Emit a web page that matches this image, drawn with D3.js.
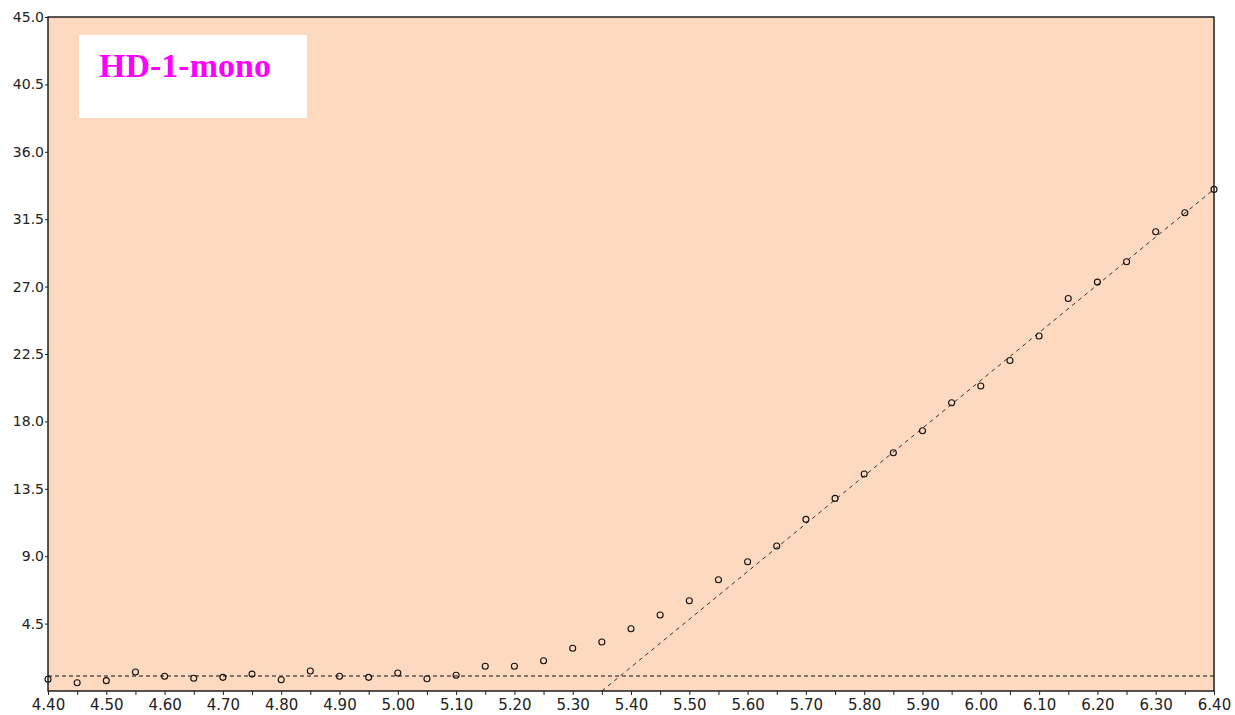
<!DOCTYPE html>
<html>
<head>
<meta charset="utf-8">
<script src="https://cdn.jsdelivr.net/npm/d3@7"></script>
<style>
  html, body { margin: 0; padding: 0; background: #ffffff; }
  svg { display: block; }
</style>
</head>
<body>
<svg id="chart" width="1235" height="715"></svg>
<script>
// Measured points: x value and response
const xValues = [4.40, 4.45, 4.50, 4.55, 4.60, 4.65, 4.70, 4.75, 4.80, 4.85,
                 4.90, 4.95, 5.00, 5.05, 5.10, 5.15, 5.20, 5.25, 5.30, 5.35,
                 5.40, 5.45, 5.50, 5.55, 5.60, 5.65, 5.70, 5.75, 5.80, 5.85,
                 5.90, 5.95, 6.00, 6.05, 6.10, 6.15, 6.20, 6.25, 6.30, 6.35, 6.40];
const yValues = [0.78, 0.55, 0.69, 1.27, 0.98, 0.85, 0.91, 1.13, 0.75, 1.34,
                 0.98, 0.91, 1.20, 0.82, 1.05, 1.65, 1.65, 2.02, 2.85, 3.27,
                 4.16, 5.07, 6.03, 7.43, 8.63, 9.68, 11.46, 12.86, 14.49, 15.91,
                 17.38, 19.25, 20.36, 22.07, 23.70, 26.21, 27.30, 28.66, 30.66, 31.93, 33.49];

// Baseline level and the fitted rising line (two end points)
const baselineLevel = 1.0;
const fitX = [5.35, 6.40];
const fitY = [0.0, 33.5];

// Axis ticks
const xTicks = [4.40, 4.50, 4.60, 4.70, 4.80, 4.90, 5.00, 5.10, 5.20, 5.30, 5.40,
                5.50, 5.60, 5.70, 5.80, 5.90, 6.00, 6.10, 6.20, 6.30, 6.40];
const xMinorTicks = [4.45, 4.55, 4.65, 4.75, 4.85, 4.95, 5.05, 5.15, 5.25, 5.35,
                     5.45, 5.55, 5.65, 5.75, 5.85, 5.95, 6.05, 6.15, 6.25, 6.35];
const yTicks = [4.5, 9.0, 13.5, 18.0, 22.5, 27.0, 31.5, 36.0, 40.5, 45.0];

const titleText = "HD-1-mono";

const margin = { left: 48, right: 21, top: 17, bottom: 24 };
const W = 1235, H = 715;
const svg = d3.select("#chart");

const x = d3.scaleLinear().domain([4.40, 6.40]).range([margin.left, W - margin.right]);
const y = d3.scaleLinear().domain([0, 45]).range([H - margin.bottom, margin.top]);

// Plot background
svg.append("rect")
  .attr("x", x(4.40)).attr("y", y(45))
  .attr("width", x(6.40) - x(4.40)).attr("height", y(0) - y(45))
  .attr("fill", "#fdd9bf");

const clip = svg.append("clipPath").attr("id", "plotclip")
  .append("rect")
  .attr("x", x(4.40)).attr("y", y(45))
  .attr("width", x(6.40) - x(4.40)).attr("height", y(0) - y(45));

const plot = svg.append("g").attr("clip-path", "url(#plotclip)");

// Baseline (dashed horizontal)
plot.append("line")
  .attr("x1", x(4.40)).attr("x2", x(6.40))
  .attr("y1", y(baselineLevel)).attr("y2", y(baselineLevel))
  .attr("stroke", "#111").attr("stroke-width", 1)
  .attr("stroke-dasharray", "4,3");

// Fitted line (dashed)
const fitData = fitX.map((v, i) => [v, fitY[i]]);
plot.append("path")
  .datum(fitData)
  .attr("d", d3.line().x(d => x(d[0])).y(d => y(d[1])))
  .attr("fill", "none")
  .attr("stroke", "#333").attr("stroke-width", 1)
  .attr("stroke-dasharray", "4,4");

// Data markers
svg.append("g")
  .selectAll("circle")
  .data(xValues.map((v, i) => [v, yValues[i]]))
  .join("circle")
  .attr("cx", d => x(d[0]))
  .attr("cy", d => y(d[1]))
  .attr("r", 3)
  .attr("fill", "none")
  .attr("stroke", "#111")
  .attr("stroke-width", 1.1);

// Frame
svg.append("rect")
  .attr("x", x(4.40)).attr("y", y(45))
  .attr("width", x(6.40) - x(4.40)).attr("height", y(0) - y(45))
  .attr("fill", "none").attr("stroke", "#111").attr("stroke-width", 1.4);

// X axis
const xAxis = svg.append("g")
  .attr("transform", `translate(0,${y(0)})`)
  .call(d3.axisBottom(x).tickValues(xTicks).tickFormat(d3.format(".2f")).tickSize(4).tickPadding(4));
xAxis.select(".domain").remove();
xAxis.selectAll("text")
  .attr("font-family", "DejaVu Sans, sans-serif")
  .attr("font-size", 15).attr("fill", "#222");
xAxis.selectAll("line").attr("stroke", "#222");

const xMinor = svg.append("g")
  .attr("transform", `translate(0,${y(0)})`)
  .call(d3.axisBottom(x).tickValues(xMinorTicks).tickFormat("").tickSize(4));
xMinor.select(".domain").remove();
xMinor.selectAll("line").attr("stroke", "#222");

// Y axis
const yAxis = svg.append("g")
  .attr("transform", `translate(${x(4.40)},0)`)
  .call(d3.axisLeft(y).tickValues(yTicks).tickFormat(d3.format(".1f")).tickSize(3).tickPadding(1));
yAxis.select(".domain").remove();
yAxis.selectAll("text")
  .attr("font-family", "DejaVu Sans, sans-serif")
  .attr("font-size", 14).attr("fill", "#222");
yAxis.selectAll("line").attr("stroke", "#222");

// Title box
svg.append("rect")
  .attr("x", 79).attr("y", 35).attr("width", 228).attr("height", 83)
  .attr("fill", "#ffffff");
svg.append("text")
  .attr("x", 99).attr("y", 77)
  .attr("font-family", "Liberation Serif, Times New Roman, serif")
  .attr("font-weight", "bold")
  .attr("font-size", 34)
  .attr("fill", "#ff00ff")
  .text(titleText);
</script>
</body>
</html>
